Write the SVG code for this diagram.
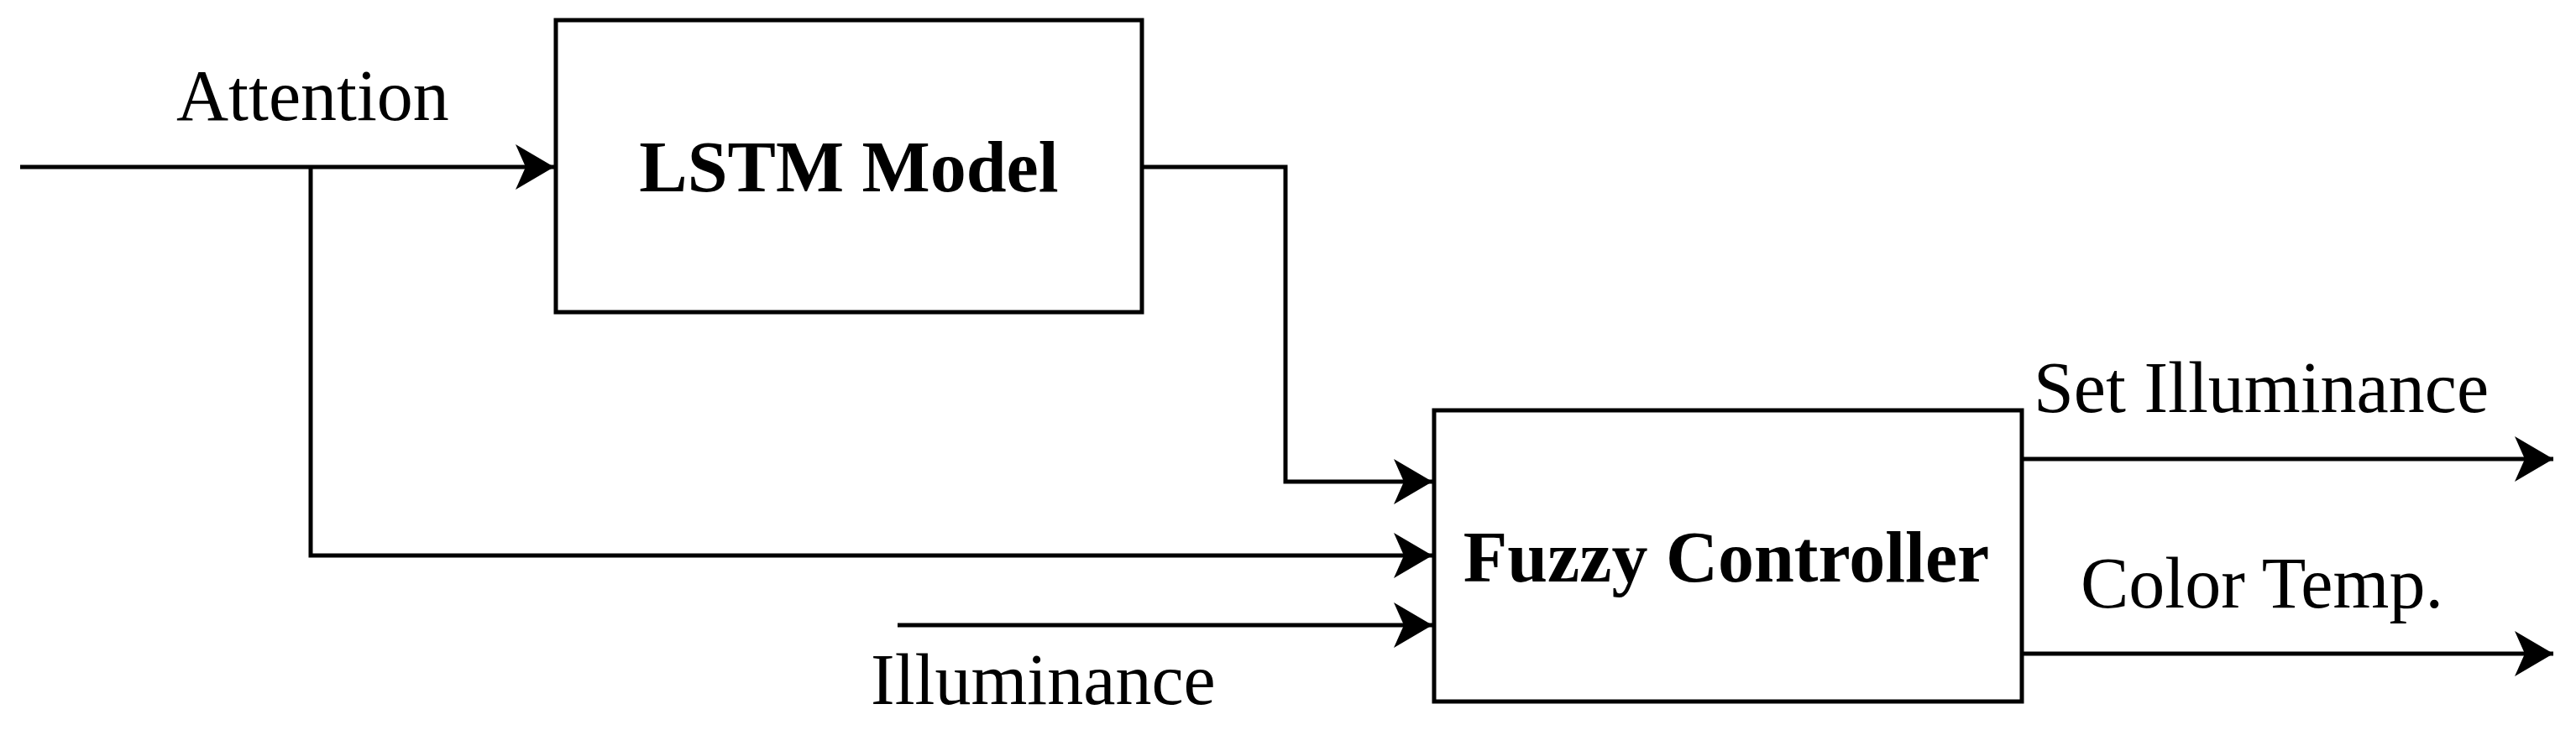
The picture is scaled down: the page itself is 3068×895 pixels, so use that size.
<svg xmlns="http://www.w3.org/2000/svg" width="3068" height="895" viewBox="0 0 3068 895">
<style>
.b{fill:#fff;stroke:#000;stroke-width:5}
.c{fill:none;stroke:#000;stroke-width:5}
.t{font-family:"Liberation Serif",serif;font-size:86px;fill:#000}
.bt{font-family:"Liberation Serif",serif;font-size:86px;font-weight:bold;fill:#000}
</style>
<defs>
<marker id="a" markerUnits="userSpaceOnUse" markerWidth="50" markerHeight="54" refX="46" refY="27" orient="auto">
<path d="M0,0 L46,27 L0,54 L12,27 Z" fill="#000"/>
</marker>
</defs>
<g id="connectors">
<path class="c" d="M24,199 H660" marker-end="url(#a)"/>
<path class="c" d="M370,199 V662 H1706" marker-end="url(#a)"/>
<path class="c" d="M1360,199 H1531 V574 H1706" marker-end="url(#a)"/>
<path class="c" d="M1069,745 H1706" marker-end="url(#a)"/>
<path class="c" d="M2408,547 H3041" marker-end="url(#a)"/>
<path class="c" d="M2408,779 H3041" marker-end="url(#a)"/>
</g>
<g id="lstm">
<rect class="b" x="662" y="24" width="698" height="348"/>
<text class="bt" x="1011" y="228" text-anchor="middle">LSTM Model</text>
</g>
<g id="fuzzy">
<rect class="b" x="1708" y="489" width="700" height="347"/>
<text class="bt" x="2056" y="693" text-anchor="middle">Fuzzy Controller</text>
</g>
<g id="labels">
<text class="t" x="210" y="143">Attention</text>
<text class="t" x="1037" y="839">Illuminance</text>
<text class="t" x="2422" y="491">Set Illuminance</text>
<text class="t" x="2478" y="724">Color Temp.</text>
</g>
</svg>
